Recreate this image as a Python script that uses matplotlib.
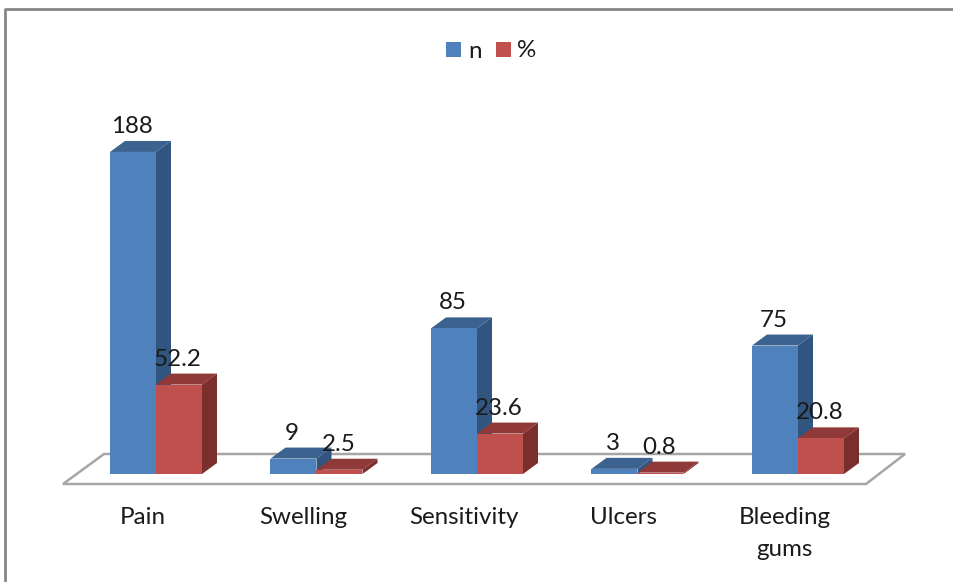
import matplotlib
matplotlib.use('Agg')
import numpy as np
import matplotlib.pyplot as plt
from matplotlib.patches import Polygon, Rectangle

plt.rcParams['font.family'] = ['Lato', 'DejaVu Sans']

categories = ['Pain', 'Swelling', 'Sensitivity', 'Ulcers', 'Bleeding\ngums']
n_vals = [188, 9, 85, 3, 75]
pct_vals = [52.2, 2.5, 23.6, 0.8, 20.8]
n_labels = ['188', '9', '85', '3', '75']
pct_labels = ['52.2', '2.5', '23.6', '0.8', '20.8']

W, H = 954, 582
x0_px = 156.0  # centre of first group
step_px = 160.5
base_px = 474.0  # y of value 0, from top
unit_px = 1.713  # pixels per value


def sx(px):
    return px / step_px


def sy(px):
    return px / unit_px


def draw_bar(ax, x, w, val, face, top, side):
    dx, dy = sx(15), sy(11)
    ax.add_patch(Polygon([(x, val), (x + dx, val + dy), (x + w + dx, val + dy), (x + w, val)],
                         fc=top, ec='none', zorder=3))
    ax.add_patch(Polygon([(x + w, 0), (x + w + dx, dy), (x + w + dx, val + dy), (x + w, val)],
                         fc=side, ec='none', zorder=3))
    ax.add_patch(Rectangle((x, 0), w, val, fc=face, ec='none', zorder=3))


fig = plt.figure(figsize=(W / 100, H / 100), dpi=100)
ax = fig.add_axes([0, 0, 1, 1])
ax.set_xlim(-x0_px / step_px, (W - x0_px) / step_px)
ax.set_ylim(-(H - base_px) / unit_px, base_px / unit_px)
ax.axis('off')


def pt(xp, yp):
    # pixel position in the picture -> data
    return (xp - x0_px) / step_px, (base_px - yp) / unit_px


# chart frame
frame = [pt(5, 582), pt(5, 9), pt(954, 9)]
ax.plot(*zip(*frame), color='#868686', lw=2.0, zorder=1)

# floor
floor = [pt(63, 484), pt(866, 484), pt(905, 454), pt(104, 454)]
ax.add_patch(Polygon(floor, closed=True, fc='white', ec='#a6a6a6', lw=1.8, zorder=2))

bar_w = sx(46)
blue, blue_top, blue_side = '#4f81bd', '#3c6290', '#32557f'
red, red_top, red_side = '#c0504d', '#8f3a38', '#7b2f2d'

# blue first so red sits in front of the blue side face
for i, v in enumerate(n_vals):
    draw_bar(ax, i - bar_w, bar_w, v, blue, blue_top, blue_side)
for i, v in enumerate(pct_vals):
    draw_bar(ax, i, bar_w, v, red, red_top, red_side)

fs = 17.4
tc = '#1a1a1a'
for i in range(len(categories)):
    ax.text(i - bar_w / 2 - sx(1.5), n_vals[i] + sy(25.5), n_labels[i], ha='center', va='center',
            fontsize=fs, color=tc, zorder=5)
    ax.text(i + bar_w / 2 - sx(1), pct_vals[i] + sy(25.5), pct_labels[i], ha='center', va='center',
            fontsize=fs, color=tc, zorder=5)
    ax.text(i - sx(13.5), sy(-33), categories[i], ha='center', va='top', fontsize=fs,
            color=tc, linespacing=1.66, zorder=5)

# legend
lx, ly = pt(446, 57)
ax.add_patch(Rectangle((lx, ly), sx(15), sy(15), fc=blue, ec='none', zorder=5))
lx, ly = pt(496, 57)
ax.add_patch(Rectangle((lx, ly), sx(15), sy(15), fc=red, ec='none', zorder=5))
ax.text(*pt(468, 51), 'n', ha='left', va='center', fontsize=fs, color=tc, zorder=5)
ax.text(*pt(517, 50), '%', ha='left', va='center', fontsize=fs, color=tc, zorder=5)

fig.savefig('out.png', dpi=100, facecolor='white')
